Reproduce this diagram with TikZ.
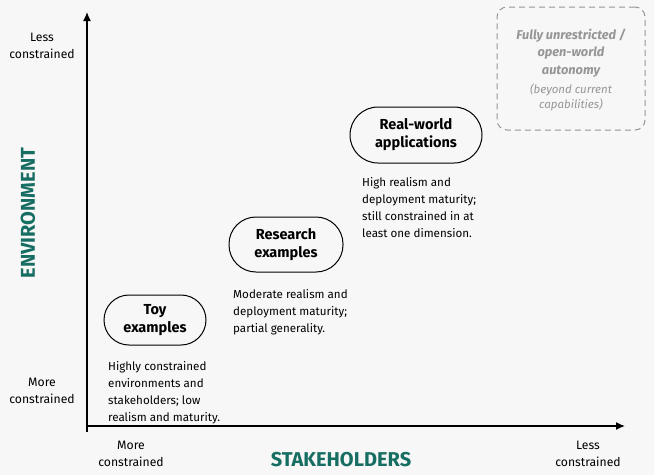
\documentclass[tikz,border=0pt]{standalone}
\usepackage{fontspec}
\setmainfont{Fira Sans}
\usepackage{xcolor}
\usetikzlibrary{arrows.meta,positioning}
\definecolor{teal}{RGB}{22,110,98}
\definecolor{bggray}{RGB}{247,247,247}
\definecolor{boxgray}{RGB}{150,150,150}

\begin{document}
\begin{tikzpicture}[x=1pt,y=-1pt,
  every node/.style={font=\fontsize{11}{15}\selectfont},
  stage/.style={draw,line width=1pt,align=center,font=\fontsize{14.5}{18}\selectfont\bfseries},
  desc/.style={align=left,anchor=north west,inner sep=0pt,font=\fontsize{11.6}{17}\selectfont},
  tick/.style={align=center,font=\fontsize{12.2}{16.5}\selectfont},
  axistitle/.style={text=teal,font=\fontsize{20}{22}\selectfont\bfseries}]
  \fill[bggray] (0,0) rectangle (654,475);
  \useasboundingbox (0,0) rectangle (654,475);
  % axes
  \coordinate (o) at (87,426);
  \coordinate (ytip) at (87,12);
  \coordinate (xtip) at (625,426);
  \draw[line width=1.4pt,-{Latex[length=9pt,width=8pt]}] (o|-0,432) -- (ytip);
  \draw[line width=1.4pt,-{Latex[length=9pt,width=8pt]}] (o) -- (xtip);
  \node[tick] (ylo) at (42,391) {More\\constrained};
  \node[tick] (yhi) at (42,46) {Less\\constrained};
  \node[tick] (xlo) at (131,454) {More\\constrained};
  \node[tick] (xhi) at (588,454) {Less\\constrained};
  \node[axistitle,rotate=90] (env) at (28,213) {ENVIRONMENT};
  \node[axistitle] (stk) at (341,460) {STAKEHOLDERS};
  % stages
  \node[stage,minimum width=102pt,minimum height=50pt,rounded corners=25pt] (toy) at (155,320) {Toy\\examples};
  \node[stage,minimum width=114pt,minimum height=55pt,rounded corners=27pt] (res) at (286,244.5) {Research\\examples};
  \node[stage,minimum width=132pt,minimum height=56pt,rounded corners=28pt] (real) at (416,135) {Real-world\\applications};
  \node[desc] (toyd) at (108,361) {Highly constrained\\environments and\\stakeholders; low\\realism and maturity.};
  \node[desc] (resd) at (233,289) {Moderate realism and\\deployment maturity;\\partial generality.};
  \node[desc] (reald) at (362,177) {High realism and\\deployment maturity;\\still constrained in at\\least one dimension.};
  % beyond
  \node[draw=boxgray,line width=1pt,dash pattern=on 6pt off 4pt,rounded corners=10pt,
        minimum width=148pt,minimum height=123pt] (open) at (571,68.5) {};
  \node[text=boxgray,align=center,font=\fontsize{12.8}{17.5}\selectfont\bfseries\itshape] (opent) at (571,53) {Fully unrestricted /\\open-world\\autonomy};
  \node[text=boxgray,align=center,font=\fontsize{11.5}{14.5}\selectfont\itshape] (opens) at (571,97.5) {(beyond current\\capabilities)};
\end{tikzpicture}
\end{document}
